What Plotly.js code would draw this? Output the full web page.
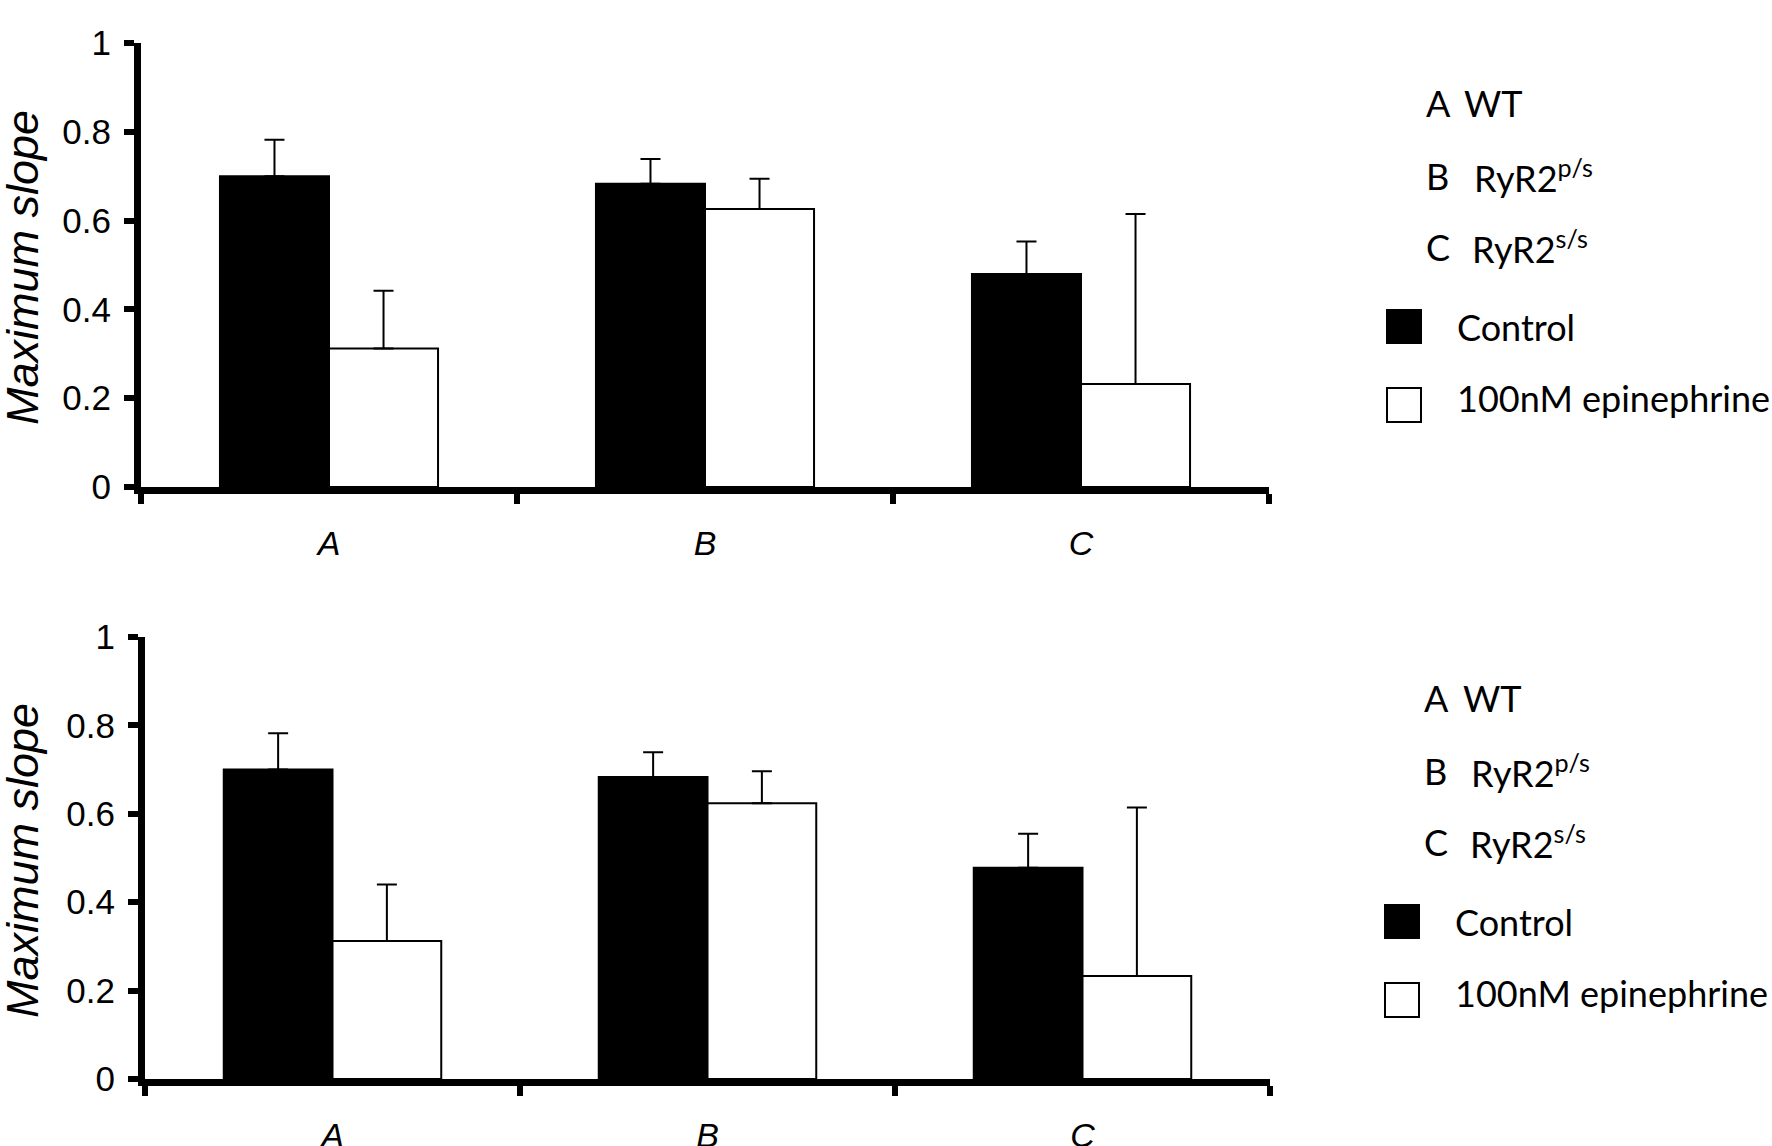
<!DOCTYPE html>
<html>
<head>
<meta charset="utf-8">
<script src="https://cdn.plot.ly/plotly-3.0.1.min.js"></script>
<style>
  html, body { margin: 0; padding: 0; background: #fff; }
  #chart { width: 1772px; height: 1146px; }
</style>
</head>
<body>
<div id="chart"></div>
<script>
    // values (top / bottom)
    var groups = ['A', 'B', 'C'];
    var topControl = [0.70, 0.683, 0.48];
    var topControlErr = [0.082, 0.056, 0.073];
    var topEpi = [0.312, 0.626, 0.232];
    var topEpiErr = [0.13, 0.068, 0.383];
    var botControl = [0.70, 0.683, 0.478];
    var botControlErr = [0.082, 0.056, 0.077];
    var botEpi = [0.312, 0.624, 0.233];
    var botEpiErr = [0.128, 0.072, 0.381];
    var yTicks = [0, 0.2, 0.4, 0.6, 0.8, 1];
    var yTickText = ['0', '0.2', '0.4', '0.6', '0.8', '1'];
    var seriesNames = ['Control', '100nM epinephrine'];
    var keyLetters = ['A', 'B', 'C'];
    var keyNames = ['WT', 'RyR2<sup>p/s</sup>', 'RyR2<sup>s/s</sup>'];

    var W = 1772, H = 1146;
    function px(x) { return x / W; }
    function py(y) { return 1 - y / H; }

    function bars(vals, errs, fill, xa, ya, name) {
        return {
            type: 'bar',
            x: groups,
            y: vals,
            name: name,
            xaxis: xa,
            yaxis: ya,
            marker: {color: fill, line: {color: 'black', width: 2}},
            error_y: {
                type: 'data',
                symmetric: false,
                array: errs,
                arrayminus: errs.map(function () { return 0; }),
                color: 'black',
                thickness: 2,
                width: 10
            },
            showlegend: false
        };
    }

    var data = [
        bars(topControl, topControlErr, 'black', 'x', 'y', seriesNames[0]),
        bars(topEpi, topEpiErr, 'white', 'x', 'y', seriesNames[1]),
        bars(botControl, botControlErr, 'black', 'x2', 'y2', seriesNames[0]),
        bars(botEpi, botEpiErr, 'white', 'x2', 'y2', seriesNames[1])
    ];

    function xAxis(domain, anchor) {
        return {
            domain: domain,
            anchor: anchor,
            type: 'category',
            range: [-0.5, 2.5],
            showline: true,
            linecolor: 'black',
            linewidth: 7,
            ticks: 'outside',
            tickson: 'boundaries',
            ticklen: 10,
            tickwidth: 6,
            tickcolor: 'black',
            ticklabelstandoff: 20,
            showgrid: false,
            zeroline: false,
            tickfont: {family: 'Liberation Sans, Arial, sans-serif', size: 34, color: 'black', style: 'italic'}
        };
    }
    function yAxis(domain, anchor) {
        return {
            domain: domain,
            anchor: anchor,
            range: [0, 1],
            tickvals: yTicks,
            ticktext: yTickText,
            showline: true,
            linecolor: 'black',
            linewidth: 7,
            ticks: 'outside',
            ticklen: 10,
            tickwidth: 6,
            tickcolor: 'black',
            ticklabelstandoff: 6,
            showgrid: false,
            zeroline: false,
            tickfont: {family: 'Liberation Sans, Arial, sans-serif', size: 35, color: 'black'}
        };
    }

    var annotations = [];
    var shapes = [];
    var legendFont = {family: 'Lato, sans-serif', size: 36, color: 'black'};

    // two panels: y offsets of the key rows and swatches
    var panels = [
        {title: 268, rows: [103, 176, 247], nameX: [1462, 1472, 1470], letterX: 1424,
         sw: [[310, 343], [388, 422]], swX: [1387, 1421], textX: 1455, txt: [327, 398]},
        {title: 861, rows: [698, 771, 842], nameX: [1461, 1469, 1468], letterX: 1422,
         sw: [[905, 938], [983, 1017]], swX: [1385, 1419], textX: 1453, txt: [922, 993]}
    ];

    panels.forEach(function (p) {
        annotations.push({
            xref: 'paper', yref: 'paper', x: px(22), y: py(p.title),
            text: 'Maximum slope', textangle: -90, showarrow: false,
            xanchor: 'center', yanchor: 'middle',
            font: {family: 'Liberation Sans, Arial, sans-serif', size: 45, color: 'black', style: 'italic'}
        });
        for (var i = 0; i < 3; i++) {
            annotations.push({
                xref: 'paper', yref: 'paper', x: px(p.letterX), y: py(p.rows[i]),
                text: keyLetters[i], showarrow: false, xanchor: 'left', yanchor: 'middle', font: legendFont
            });
            annotations.push({
                xref: 'paper', yref: 'paper', x: px(p.nameX[i]), y: py(p.rows[i]),
                text: keyNames[i], showarrow: false, xanchor: 'left', yanchor: 'middle', font: legendFont
            });
        }
        var fills = ['black', 'white'];
        for (var j = 0; j < 2; j++) {
            shapes.push({
                type: 'rect', xref: 'paper', yref: 'paper',
                x0: px(p.swX[0]), x1: px(p.swX[1]), y0: py(p.sw[j][1]), y1: py(p.sw[j][0]),
                fillcolor: fills[j], line: {color: 'black', width: 2}
            });
            annotations.push({
                xref: 'paper', yref: 'paper', x: px(p.textX), y: py(p.txt[j]),
                text: seriesNames[j], showarrow: false, xanchor: 'left', yanchor: 'middle', font: legendFont
            });
        }
    });

    var layout = {
        width: W,
        height: H,
        margin: {t: 0, r: 0, l: 0, b: 0},
        paper_bgcolor: 'white',
        plot_bgcolor: 'white',
        showlegend: false,
        barmode: 'group',
        bargap: 0.42,
        bargroupgap: 0,
        xaxis: xAxis([141 / W, 1269 / W], 'y'),
        yaxis: yAxis([py(487), py(43)], 'x'),
        xaxis2: xAxis([145 / W, 1270 / W], 'y2'),
        yaxis2: yAxis([py(1079), py(637)], 'x2'),
        annotations: annotations,
        shapes: shapes
    };

    Plotly.newPlot('chart', data, layout, {staticPlot: true});
</script>
</body>
</html>
